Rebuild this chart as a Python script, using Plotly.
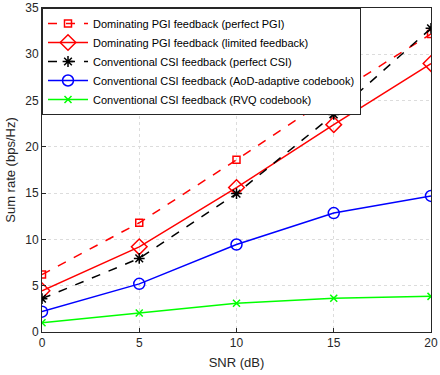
import plotly.graph_objects as go

snr = [0, 5, 10, 15, 20]

pgi_perfect = [6.2, 11.8, 18.6, 25.6, 32.2]
pgi_limited = [4.45, 9.2, 15.6, 22.4, 29.0]
csi_perfect = [3.6, 7.95, 14.95, 23.5, 32.8]
csi_aod = [2.2, 5.2, 9.45, 12.85, 14.7]
csi_rvq = [1.0, 2.05, 3.1, 3.65, 3.85]

names = [
    "Dominating PGI feedback (perfect PGI)",
    "Dominating PGI feedback (limited feedback)",
    "Conventional CSI feedback (perfect CSI)",
    "Conventional CSI feedback (AoD-adaptive codebook)",
    "Conventional CSI feedback (RVQ codebook)",
]

fig = go.Figure()

# (values, colour, dash, symbol, marker size)
series = [
    (pgi_perfect, "#ff0000", "dash", "square-open", 7),
    (pgi_limited, "#ff0000", "solid", "diamond-open", 12),
    (csi_perfect, "#000000", "dash", "asterisk-open", 9),
    (csi_aod, "#0000ff", "solid", "circle-open", 11),
    (csi_rvq, "#00ff00", "solid", "x-thin-open", 7),
]

for name, (vals, col, dash, sym, size) in zip(names, series):
    fig.add_trace(go.Scatter(
        x=snr, y=vals, name=name, mode="lines+markers",
        line=dict(color=col, width=1.5, dash=dash),
        marker=dict(symbol=sym, size=size, color=col,
                    line=dict(color=col, width=1.5)),
    ))

axis_common = dict(
    showline=True, linecolor="#262626", linewidth=1, mirror=True,
    showgrid=True, gridcolor="#dcdcdc", griddash="dot", gridwidth=1,
    zeroline=False, ticks="inside", ticklen=4, tickcolor="#262626",
    tickfont=dict(size=12, color="#262626"),
    title_font=dict(size=13, color="#262626"),
    automargin=False,
)

fig.update_layout(
    width=440, height=375,
    margin=dict(l=42, r=9, t=8, b=43),
    paper_bgcolor="white", plot_bgcolor="white",
    font=dict(family="Liberation Sans, Arial, sans-serif", color="#262626"),
    xaxis=dict(range=[0, 20], tickvals=[0, 5, 10, 15, 20],
               title=dict(text="SNR (dB)", standoff=8), **axis_common),
    yaxis=dict(range=[0, 35], tickvals=[0, 5, 10, 15, 20, 25, 30, 35],
               title=dict(text="Sum rate (bps/Hz)", standoff=6), **axis_common),
    legend=dict(x=0, y=1, xanchor="left", yanchor="top",
                bgcolor="white", bordercolor="#262626", borderwidth=1,
                font=dict(size=11, color="#000000"),
                itemwidth=40, tracegroupgap=0),
)

# page body has a default margin, drop it so the figure sits at 0,0
fig.write_html("out.html", config={"displayModeBar": False},
               post_script="document.body.style.margin='0';")
